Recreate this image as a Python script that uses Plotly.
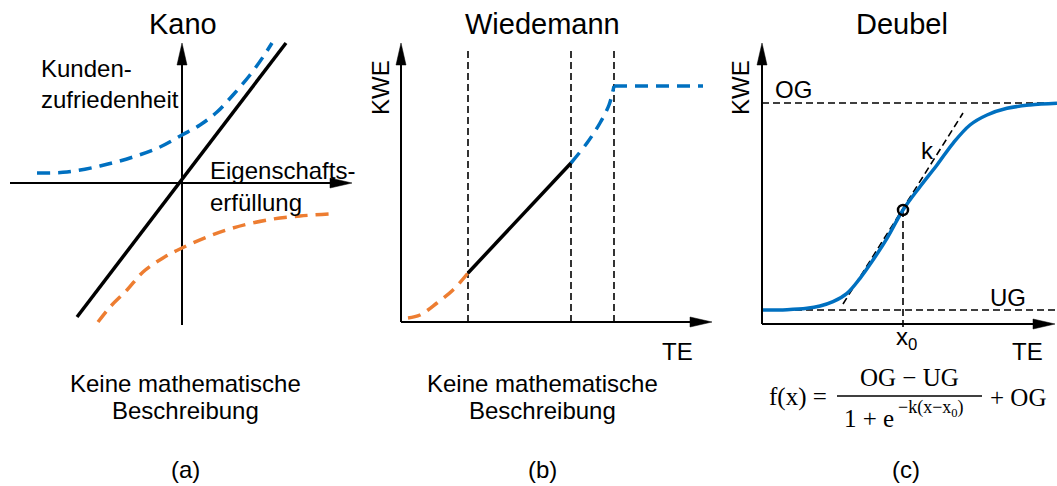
import plotly.graph_objects as go

W, H = 1057, 486
BLUE = "#0070C0"
ORANGE = "#ED7D31"
BLACK = "#000000"
SANS = "Liberation Sans, Arial, sans-serif"
SERIF = "Liberation Serif, DejaVu Serif, serif"

# ---------------- data (conceptual units) ----------------
# (a) Kano: origin at crossing of axes
kano_basic_x = [-1.05, 1.04]
kano_basic_y = [-1.34, 1.40]
kano_excite_x = [-1.45, -1.15, -0.82, -0.49, -0.22, 0.00, 0.18, 0.35, 0.51, 0.68, 0.81, 0.90]
kano_excite_y = [0.10, 0.11, 0.17, 0.26, 0.36, 0.48, 0.58, 0.71, 0.88, 1.08, 1.26, 1.40]
kano_must_x = [-0.84, -0.72, -0.55, -0.39, -0.19, 0.00, 0.25, 0.51, 0.85, 1.18, 1.48]
kano_must_y = [-1.39, -1.24, -1.07, -0.89, -0.75, -0.65, -0.54, -0.45, -0.37, -0.33, -0.31]
kano_xaxis = [-1.72, 1.70]
kano_yaxis = [-1.42, 1.40]

# (b) Wiedemann
wied_bounds = [0.67, 1.70, 2.13]
wied_bound_top = 2.72
wied_low_x = [0.07, 0.19, 0.36, 0.52, 0.67]
wied_low_y = [0.04, 0.07, 0.19, 0.32, 0.49]
wied_lin_x = [0.67, 1.70]
wied_lin_y = [0.49, 1.59]
wied_high_x = [1.70, 1.86, 1.99, 2.08, 2.13]
wied_high_y = [1.59, 1.79, 1.99, 2.17, 2.36]
wied_flat_x = [2.13, 3.02]
wied_flat_y = [2.36, 2.36]
wied_xaxis_end = 3.11
wied_yaxis_end = 2.79

# (c) Deubel
deub_UG = 0.14
deub_OG = 2.21
deub_x0 = 1.41
deub_y0 = 1.14
deub_curve_x = [0.01, 0.25, 0.45, 0.58, 0.71, 0.85, 0.98, 1.11, 1.25, 1.41, 1.58,
                1.75, 1.91, 2.08, 2.25, 2.45, 2.68, 2.95]
deub_curve_y = [0.14, 0.143, 0.157, 0.18, 0.223, 0.307, 0.457, 0.64, 0.857, 1.14, 1.373,
                1.59, 1.807, 1.99, 2.09, 2.157, 2.19, 2.207]
deub_tangent_x = [0.81, 2.01]
deub_tangent_y = [0.20, 2.11]
deub_xaxis_end = 2.93
deub_yaxis_end = 2.81

titles = ["Kano", "Wiedemann", "Deubel"]
captions = ["(a)", "(b)", "(c)"]

# ---------------- panel geometry (pixels) ----------------
S = 100.0  # pixels per unit
panels = [
    dict(left=0, right=360, ox=182, oy=183),
    dict(left=360, right=720, ox=401, oy=322),
    dict(left=720, right=1057, ox=762, oy=324),
]

fig = go.Figure()
layout_axes = {}
for i, p in enumerate(panels):
    sx = "" if i == 0 else str(i + 1)
    layout_axes["xaxis" + sx] = dict(
        domain=[p["left"] / W, p["right"] / W],
        range=[(p["left"] - p["ox"]) / S, (p["right"] - p["ox"]) / S],
        visible=False, fixedrange=True, anchor="y" + sx,
    )
    layout_axes["yaxis" + sx] = dict(
        domain=[0, 1],
        range=[(p["oy"] - H) / S, p["oy"] / S],
        visible=False, fixedrange=True, anchor="x" + sx,
    )


def ax(i):
    sx = "" if i == 0 else str(i + 1)
    return dict(xaxis="x" + sx, yaxis="y" + sx)


def line(i, x, y, color=BLACK, width=2, dash="solid", spline=False):
    ln = dict(color=color, width=width, dash=dash)
    if spline:
        ln.update(shape="spline", smoothing=1.0)
    fig.add_trace(go.Scatter(x=x, y=y, mode="lines", hoverinfo="skip",
                             line=ln, showlegend=False, **ax(i)))


HEAD_L, HEAD_W = 0.22, 0.05


def arrow_right(i, x0, x1, y):
    line(i, [x0, x1 - HEAD_L + 0.02], [y, y], width=2)
    fig.add_trace(go.Scatter(x=[x1 - HEAD_L, x1, x1 - HEAD_L, x1 - HEAD_L],
                             y=[y + HEAD_W, y, y - HEAD_W, y + HEAD_W],
                             mode="lines", fill="toself", fillcolor=BLACK,
                             line=dict(color=BLACK, width=0.5), hoverinfo="skip",
                             showlegend=False, **ax(i)))


def arrow_up(i, x, y0, y1):
    line(i, [x, x], [y0, y1 - HEAD_L + 0.02], width=2)
    fig.add_trace(go.Scatter(x=[x - HEAD_W, x, x + HEAD_W, x - HEAD_W],
                             y=[y1 - HEAD_L, y1, y1 - HEAD_L, y1 - HEAD_L],
                             mode="lines", fill="toself", fillcolor=BLACK,
                             line=dict(color=BLACK, width=0.5), hoverinfo="skip",
                             showlegend=False, **ax(i)))


BIGDASH = "13px,8px"
SMALLDASH = "7px,4px"

# (a) Kano
arrow_right(0, kano_xaxis[0], kano_xaxis[1], 0)
arrow_up(0, 0, kano_yaxis[0], kano_yaxis[1])
line(0, kano_excite_x, kano_excite_y, color=BLUE, width=3.5, dash=BIGDASH, spline=True)
line(0, kano_must_x, kano_must_y, color=ORANGE, width=3.5, dash=BIGDASH, spline=True)
line(0, kano_basic_x, kano_basic_y, color=BLACK, width=3.5)

# (b) Wiedemann
for xb in wied_bounds:
    line(1, [xb, xb], [0, wied_bound_top], width=1.6, dash=SMALLDASH)
arrow_right(1, 0, wied_xaxis_end, 0)
arrow_up(1, 0, 0, wied_yaxis_end)
line(1, wied_low_x, wied_low_y, color=ORANGE, width=3.5, dash=BIGDASH, spline=True)
line(1, wied_lin_x, wied_lin_y, color=BLACK, width=3.5)
line(1, wied_high_x, wied_high_y, color=BLUE, width=3.5, dash=BIGDASH, spline=True)
line(1, wied_flat_x, wied_flat_y, color=BLUE, width=3.5, dash=BIGDASH)

# (c) Deubel
line(2, [0, deub_xaxis_end + 0.02], [deub_OG, deub_OG], width=1.6, dash=SMALLDASH)
line(2, [0, deub_xaxis_end + 0.02], [deub_UG, deub_UG], width=1.6, dash=SMALLDASH)
line(2, [deub_x0, deub_x0], [-0.03, deub_y0], width=1.6, dash=SMALLDASH)
line(2, deub_tangent_x, deub_tangent_y, width=1.6, dash=SMALLDASH)
arrow_right(2, 0, deub_xaxis_end, 0)
arrow_up(2, 0, 0, deub_yaxis_end)
line(2, deub_curve_x, deub_curve_y, color=BLUE, width=3.5, spline=True)
fig.add_trace(go.Scatter(x=[deub_x0], y=[deub_y0], mode="markers", hoverinfo="skip",
                         marker=dict(symbol="circle-open", size=10, color=BLACK,
                                     line=dict(width=2.5, color=BLACK)),
                         showlegend=False, **ax(2)))

# ---------------- text ----------------
ann = []


def txt(x, y, s, size=24, anchor="center", family=SANS, angle=0):
    ann.append(dict(x=x / W, y=1 - y / H, xref="paper", yref="paper", text=s,
                    showarrow=False, xanchor=anchor, yanchor="middle", textangle=angle,
                    font=dict(family=family, size=size, color=BLACK)))


txt(183, 24, titles[0], size=29)
txt(542, 24, titles[1], size=29)
txt(902, 24, titles[2], size=29)

txt(39, 68, "Kunden-", anchor="left")
txt(39, 100, "zufriedenheit", anchor="left")
txt(208, 170, "Eigenschafts-", anchor="left")
txt(208, 202, "erfüllung", anchor="left")

txt(380, 88, "KWE", angle=-90)
txt(740, 88, "KWE", angle=-90)
txt(677, 351, "TE")
txt(1027, 351, "TE")
txt(793, 90, "OG")
txt(1008, 297, "UG")
txt(927, 150, "k")
txt(906, 338, "x<sub>0</sub>")

for cx in (185, 542):
    txt(cx, 383, "Keine mathematische")
    txt(cx, 410, "Beschreibung")

txt(185, 469, captions[0])
txt(542, 469, captions[1])
txt(906, 469, captions[2])

# formula
txt(829, 397, "f(x) =", size=25, anchor="right", family=SERIF)
txt(909, 377, "OG − UG", size=25, family=SERIF)
txt(896, 418, "1 + e", size=25, anchor="right", family=SERIF)
txt(896, 408, "−k(x−x<sub>0</sub>)", size=18, anchor="left", family=SERIF)
txt(988, 397, "+ OG", size=25, anchor="left", family=SERIF)

shapes = [dict(type="line", xref="paper", yref="paper",
               x0=837 / W, x1=982 / W, y0=1 - 396 / H, y1=1 - 396 / H,
               line=dict(color=BLACK, width=1.5))]

fig.update_layout(
    width=W, height=H, margin=dict(l=0, r=0, t=0, b=0),
    paper_bgcolor="white", plot_bgcolor="white",
    showlegend=False, annotations=ann, shapes=shapes,
    **layout_axes,
)

fig.write_html("out.html", config={"displayModeBar": False})
